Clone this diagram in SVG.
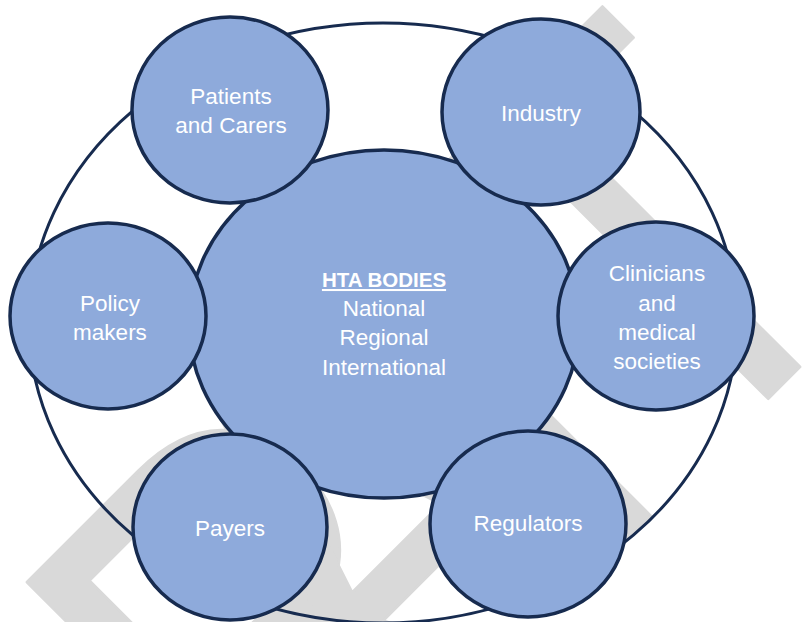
<svg xmlns="http://www.w3.org/2000/svg" width="808" height="622" viewBox="0 0 808 622">
  <style>
    .wm { font-family: "Liberation Sans", Arial, sans-serif; font-size: 573px; fill: #d9d9d9; stroke: #d9d9d9; stroke-width: 3; stroke-linejoin: round; }
    .ring { fill: none; stroke: #172b4f; stroke-width: 3; }
    .node ellipse { fill: #8eaadb; stroke: #172b4f; stroke-width: 3.5; }
    .lbl { font-family: "Liberation Sans", Arial, sans-serif; font-size: 22.5px; fill: #ffffff; text-anchor: middle; }
    .hdr { font-weight: bold; text-decoration: underline; font-size: 20.5px; }
  </style>

  <rect width="808" height="622" fill="#ffffff"/>

  <!-- background watermark, set on the page diagonal -->
  <g id="watermark">
    <text class="wm" transform="rotate(-45) scale(0.85,1)" x="-924 -509 -318 12 159" y="825">DRAFT</text>
  </g>

  <!-- outer ring joining the stakeholder groups -->
  <g id="connectors">
    <ellipse class="ring" cx="383" cy="323" rx="354" ry="300"/>
  </g>

  <g id="hta-bodies" class="node">
    <ellipse cx="384" cy="324" rx="195" ry="174"/>
    <text class="lbl hdr" x="384" y="287">HTA BODIES</text>
    <text class="lbl" x="384" y="316">National</text>
    <text class="lbl" x="384" y="345">Regional</text>
    <text class="lbl" x="384" y="375">International</text>
  </g>

  <g id="patients-carers" class="node">
    <ellipse cx="230" cy="110" rx="98" ry="93"/>
    <text class="lbl" x="231" y="104">Patients</text>
    <text class="lbl" x="231" y="133">and Carers</text>
  </g>

  <g id="industry" class="node">
    <ellipse cx="541" cy="112" rx="99" ry="93"/>
    <text class="lbl" x="541" y="121">Industry</text>
  </g>

  <g id="policy-makers" class="node">
    <ellipse cx="108" cy="316" rx="98" ry="93"/>
    <text class="lbl" x="110" y="311">Policy</text>
    <text class="lbl" x="110" y="340">makers</text>
  </g>

  <g id="clinicians" class="node">
    <ellipse cx="656" cy="316" rx="98" ry="94"/>
    <text class="lbl" x="657" y="281">Clinicians</text>
    <text class="lbl" x="657" y="311">and</text>
    <text class="lbl" x="657" y="340">medical</text>
    <text class="lbl" x="657" y="369">societies</text>
  </g>

  <g id="payers" class="node">
    <ellipse cx="230" cy="527" rx="97" ry="93"/>
    <text class="lbl" x="230" y="536">Payers</text>
  </g>

  <g id="regulators" class="node">
    <ellipse cx="528" cy="524" rx="98" ry="93"/>
    <text class="lbl" x="528" y="531">Regulators</text>
  </g>
</svg>
